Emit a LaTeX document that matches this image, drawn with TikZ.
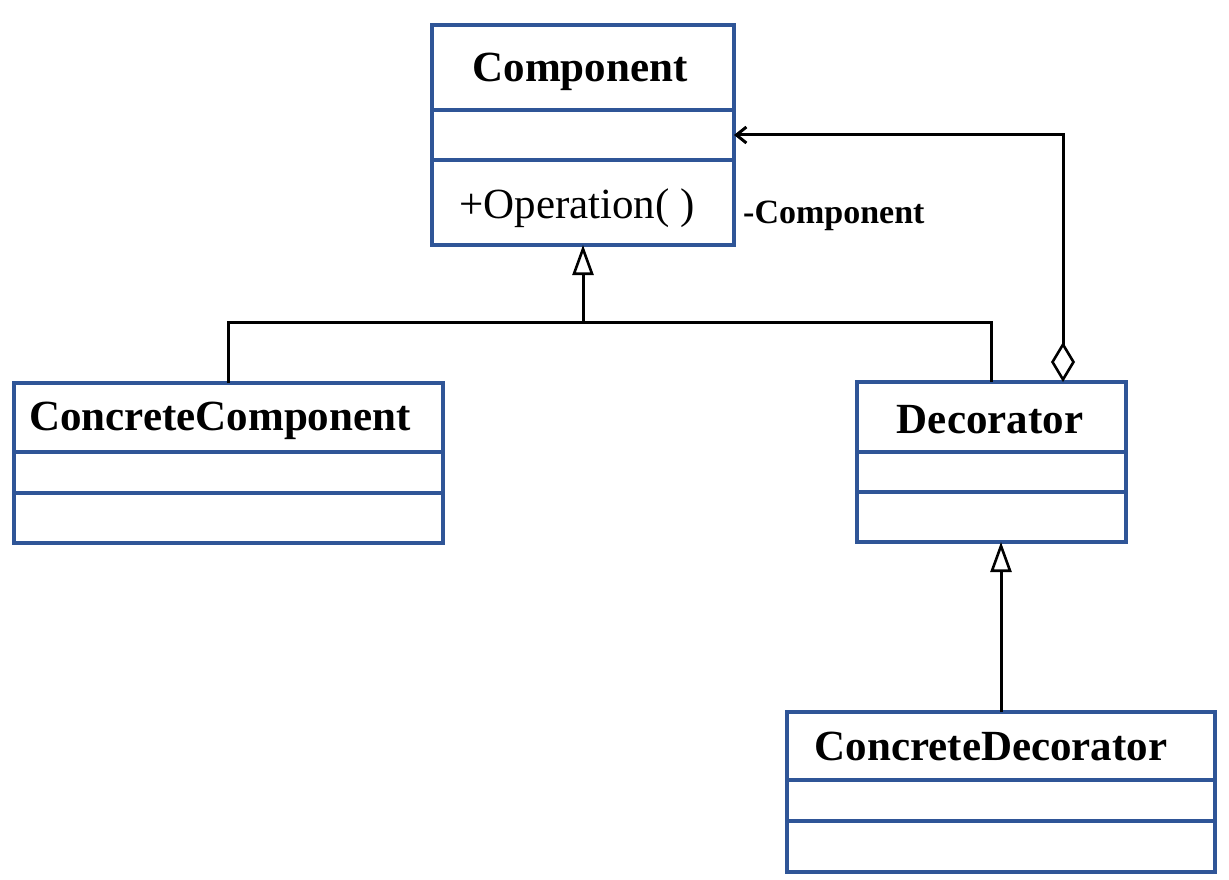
\documentclass[tikz,border=0pt]{standalone}
\usepackage{fontspec}
\setmainfont{Liberation Serif}
\usetikzlibrary{arrows.meta}
\definecolor{umlblue}{RGB}{47,85,151}
\begin{document}
\begin{tikzpicture}[x=1pt,y=-1pt,
  box/.style={draw=umlblue,line width=3.2pt,anchor=north west,inner sep=0pt,outer sep=0pt,fill=white},
  divider/.style={draw=umlblue,line width=3.2pt},
  ttl/.style={font=\fontsize{43}{50}\selectfont\bfseries,inner sep=0pt,anchor=base},
  member/.style={font=\fontsize{43}{50}\selectfont,inner sep=0pt,anchor=base west},
  role/.style={font=\fontsize{34}{40}\selectfont\bfseries,inner sep=0pt,anchor=base west},
  conn/.style={line width=3pt,black},
  inh/.style={conn,-{Triangle[open,length=30pt,width=21pt,line width=2.6pt]}},
  agg/.style={conn,{Diamond[open,length=40pt,width=24pt,line width=2.6pt]}-{Straight Barb[length=10pt,width=16pt,line width=3pt]}},
 ]
\useasboundingbox[fill=white] (0,0) rectangle (1229,880);

% boxes
\node[box,minimum width=302pt,minimum height=220pt] (comp) at (432,25) {};
\node[box,minimum width=429pt,minimum height=160pt] (cc) at (14,383) {};
\node[box,minimum width=269pt,minimum height=160pt] (dec) at (857,382) {};
\node[box,minimum width=428pt,minimum height=160pt] (cd) at (787,712) {};

% compartments
\draw[divider] (comp.west |- 0,110) -- (comp.east |- 0,110);
\draw[divider] (comp.west |- 0,160) -- (comp.east |- 0,160);
\draw[divider] (cc.west |- 0,452) -- (cc.east |- 0,452);
\draw[divider] (cc.west |- 0,493) -- (cc.east |- 0,493);
\draw[divider] (dec.west |- 0,452) -- (dec.east |- 0,452);
\draw[divider] (dec.west |- 0,492) -- (dec.east |- 0,492);
\draw[divider] (cd.west |- 0,780) -- (cd.east |- 0,780);
\draw[divider] (cd.west |- 0,821) -- (cd.east |- 0,821);

% texts
\node[ttl] (compT) at (580,82) {Component};
\node[member] (op) at (459,218) {+Operation( )};
\node[ttl] (ccT) at (220,430) {ConcreteComponent};
\node[ttl] (decT) at (990,433) {Decorator};
\node[ttl] (cdT) at (991,760) {ConcreteDecorator};
\node[role] (roleT) at (743,223) {-Component};

% connectors
\coordinate (j) at (comp.south |- 0,322);
\draw[conn] (cc.north) |- (j) -| (dec.north);
\draw[inh] (j) -- (comp.south);
\draw[agg] (dec.north -| 1063,0) |- (comp.east);
\draw[inh] (cd.north) -- (cd.north |- dec.south);
\end{tikzpicture}
\end{document}
